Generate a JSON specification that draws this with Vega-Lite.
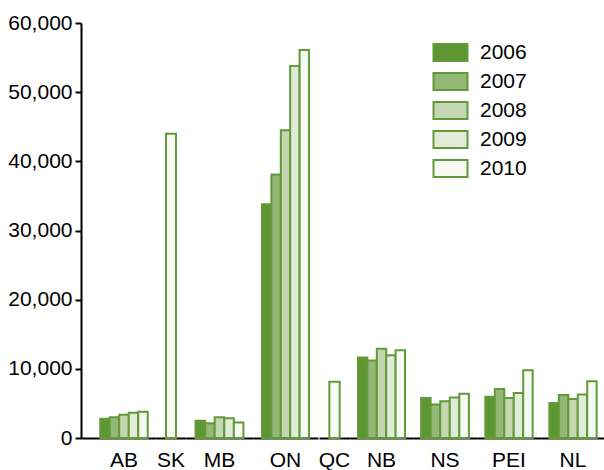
{
  "$schema": "https://vega.github.io/schema/vega-lite/v6.json",
  "padding": {"left": 7, "top": 12, "right": 0, "bottom": 0},
  "data": {"values": [
    {"province": "AB", "year": "2006", "value": 2800},
    {"province": "AB", "year": "2007", "value": 3000},
    {"province": "AB", "year": "2008", "value": 3350},
    {"province": "AB", "year": "2009", "value": 3650},
    {"province": "AB", "year": "2010", "value": 3800},
    {"province": "SK", "year": "2010", "value": 44000},
    {"province": "MB", "year": "2006", "value": 2500},
    {"province": "MB", "year": "2007", "value": 2150},
    {"province": "MB", "year": "2008", "value": 3000},
    {"province": "MB", "year": "2009", "value": 2850},
    {"province": "MB", "year": "2010", "value": 2250},
    {"province": "ON", "year": "2006", "value": 33800},
    {"province": "ON", "year": "2007", "value": 38100},
    {"province": "ON", "year": "2008", "value": 44500},
    {"province": "ON", "year": "2009", "value": 53800},
    {"province": "ON", "year": "2010", "value": 56100},
    {"province": "QC", "year": "2010", "value": 8150},
    {"province": "NB", "year": "2006", "value": 11650},
    {"province": "NB", "year": "2007", "value": 11200},
    {"province": "NB", "year": "2008", "value": 12900},
    {"province": "NB", "year": "2009", "value": 11950},
    {"province": "NB", "year": "2010", "value": 12700},
    {"province": "NS", "year": "2006", "value": 5800},
    {"province": "NS", "year": "2007", "value": 4850},
    {"province": "NS", "year": "2008", "value": 5300},
    {"province": "NS", "year": "2009", "value": 5850},
    {"province": "NS", "year": "2010", "value": 6400},
    {"province": "PEI", "year": "2006", "value": 5950},
    {"province": "PEI", "year": "2007", "value": 7100},
    {"province": "PEI", "year": "2008", "value": 5800},
    {"province": "PEI", "year": "2009", "value": 6500},
    {"province": "PEI", "year": "2010", "value": 9800},
    {"province": "NL", "year": "2006", "value": 5050},
    {"province": "NL", "year": "2007", "value": 6200},
    {"province": "NL", "year": "2008", "value": 5650},
    {"province": "NL", "year": "2009", "value": 6300},
    {"province": "NL", "year": "2010", "value": 8200}
  ]},
  "spacing": 0,
  "resolve": {"scale": {"x": "independent", "xOffset": "independent", "y": "shared", "fill": "shared"}},
  "hconcat": [
    {
      "width": 75, "height": 415,
      "transform": [{"filter": "datum.province === 'AB'"}],
      "mark": {"type": "bar", "stroke": "#62993a", "strokeWidth": 2},
      "encoding": {
        "x": {"field": "province", "type": "nominal", "scale": {"paddingInner": 0, "paddingOuter": 0.086, "align": 1}},
        "xOffset": {"field": "year", "type": "nominal", "scale": {"paddingInner": 0, "paddingOuter": 0.87}},
        "y": {
          "field": "value", "type": "quantitative",
          "scale": {"domain": [0, 60000]},
          "axis": {
            "title": null,
            "values": [0, 10000, 20000, 30000, 40000, 50000, 60000],
            "format": ",.0f",
            "grid": false,
            "domainColor": "#000000", "domainWidth": 2,
            "tickColor": "#000000", "tickWidth": 2, "tickSize": 6,
            "labelFontSize": 21, "labelColor": "#000000", "labelPadding": 3
          }
        },
        "fill": {
          "field": "year", "type": "nominal",
          "scale": {"domain": ["2006", "2007", "2008", "2009", "2010"], "range": ["#5e9732", "#93b873", "#c3d8b2", "#e1ecd8", "#f7faf3"]},
          "legend": {"title": null, "orient": "none", "legendX": 359, "legendY": 19}
        }
      }
    },
    {
      "width": 30, "height": 415,
      "transform": [{"filter": "datum.province === 'SK'"}],
      "mark": {"type": "bar", "stroke": "#62993a", "strokeWidth": 2},
      "encoding": {
        "x": {"field": "province", "type": "nominal", "scale": {"paddingInner": 0, "paddingOuter": 0}},
        "xOffset": {"field": "year", "type": "nominal", "scale": {"paddingInner": 0, "paddingOuter": 1}},
        "y": {"field": "value", "type": "quantitative", "axis": null},
        "fill": {"field": "year", "type": "nominal"}
      }
    },
    {
      "width": 67, "height": 415,
      "transform": [{"filter": "datum.province === 'MB'"}],
      "mark": {"type": "bar", "stroke": "#62993a", "strokeWidth": 2},
      "encoding": {
        "x": {"field": "province", "type": "nominal", "scale": {"paddingInner": 0, "paddingOuter": 0}},
        "xOffset": {"field": "year", "type": "nominal", "scale": {"paddingInner": 0, "paddingOuter": 1.01}},
        "y": {"field": "value", "type": "quantitative", "axis": null},
        "fill": {"field": "year", "type": "nominal"}
      }
    },
    {
      "width": 65, "height": 415,
      "transform": [{"filter": "datum.province === 'ON'"}],
      "mark": {"type": "bar", "stroke": "#62993a", "strokeWidth": 2},
      "encoding": {
        "x": {"field": "province", "type": "nominal", "scale": {"paddingInner": 0, "paddingOuter": 0}},
        "xOffset": {"field": "year", "type": "nominal", "scale": {"paddingInner": 0, "paddingOuter": 0.96}},
        "y": {"field": "value", "type": "quantitative", "axis": null},
        "fill": {"field": "year", "type": "nominal"}
      }
    },
    {
      "width": 31, "height": 415,
      "transform": [{"filter": "datum.province === 'QC'"}],
      "mark": {"type": "bar", "stroke": "#62993a", "strokeWidth": 2},
      "encoding": {
        "x": {"field": "province", "type": "nominal", "scale": {"paddingInner": 0, "paddingOuter": 0}},
        "xOffset": {"field": "year", "type": "nominal", "scale": {"paddingInner": 0, "paddingOuter": 1}},
        "y": {"field": "value", "type": "quantitative", "axis": null},
        "fill": {"field": "year", "type": "nominal"}
      }
    },
    {
      "width": 63, "height": 415,
      "transform": [{"filter": "datum.province === 'NB'"}],
      "mark": {"type": "bar", "stroke": "#62993a", "strokeWidth": 2},
      "encoding": {
        "x": {"field": "province", "type": "nominal", "scale": {"paddingInner": 0, "paddingOuter": 0}},
        "xOffset": {"field": "year", "type": "nominal", "scale": {"paddingInner": 0, "paddingOuter": 0.85}},
        "y": {"field": "value", "type": "quantitative", "axis": null},
        "fill": {"field": "year", "type": "nominal"}
      }
    },
    {
      "width": 64, "height": 415,
      "transform": [{"filter": "datum.province === 'NS'"}],
      "mark": {"type": "bar", "stroke": "#62993a", "strokeWidth": 2},
      "encoding": {
        "x": {"field": "province", "type": "nominal", "scale": {"paddingInner": 0, "paddingOuter": 0}},
        "xOffset": {"field": "year", "type": "nominal", "scale": {"paddingInner": 0, "paddingOuter": 0.85}},
        "y": {"field": "value", "type": "quantitative", "axis": null},
        "fill": {"field": "year", "type": "nominal"}
      }
    },
    {
      "width": 64, "height": 415,
      "transform": [{"filter": "datum.province === 'PEI'"}],
      "mark": {"type": "bar", "stroke": "#62993a", "strokeWidth": 2},
      "encoding": {
        "x": {"field": "province", "type": "nominal", "scale": {"paddingInner": 0, "paddingOuter": 0}},
        "xOffset": {"field": "year", "type": "nominal", "scale": {"paddingInner": 0, "paddingOuter": 0.88}},
        "y": {"field": "value", "type": "quantitative", "axis": null},
        "fill": {"field": "year", "type": "nominal"}
      }
    },
    {
      "width": 64, "height": 415,
      "transform": [{"filter": "datum.province === 'NL'"}],
      "mark": {"type": "bar", "stroke": "#62993a", "strokeWidth": 2},
      "encoding": {
        "x": {"field": "province", "type": "nominal", "scale": {"paddingInner": 0, "paddingOuter": 0}},
        "xOffset": {"field": "year", "type": "nominal", "scale": {"paddingInner": 0, "paddingOuter": 0.88}},
        "y": {"field": "value", "type": "quantitative", "axis": null},
        "fill": {"field": "year", "type": "nominal"}
      }
    }
  ],
  "config": {
    "view": {"stroke": null},
    "font": "Liberation Sans",
    "axisX": {
      "title": null,
      "ticks": false,
      "domainColor": "#000000",
      "domainWidth": 2,
      "labelFontSize": 21,
      "labelColor": "#000000",
      "labelAngle": 0,
      "labelPadding": 11
    },
    "legend": {
      "symbolType": "M-2,-1H2V1H-2Z",
      "symbolSize": 289,
      "symbolStrokeColor": "#62993a",
      "symbolStrokeWidth": 2,
      "symbolOpacity": 1,
      "labelFontSize": 21,
      "labelColor": "#000000",
      "labelOffset": 19,
      "rowPadding": 4
    }
  }
}
